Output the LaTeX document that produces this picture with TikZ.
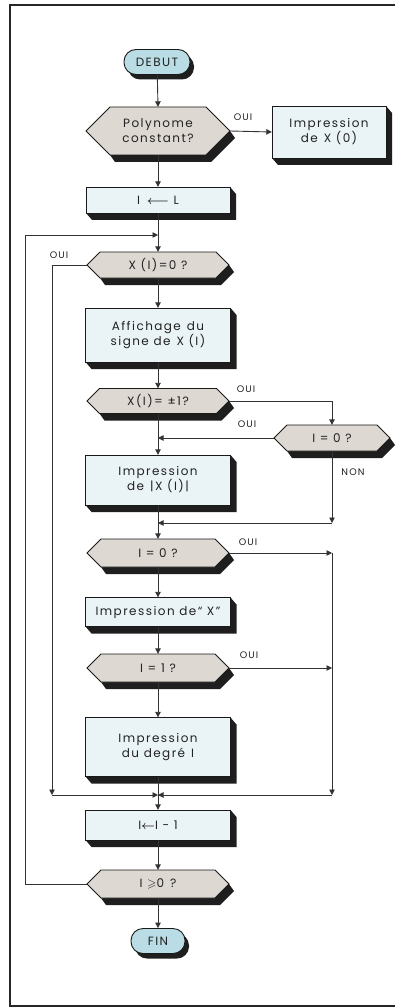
\documentclass[tikz,border=0pt]{standalone}
\usepackage{amsmath,amssymb}
\usepackage{fontspec}
\setmainfont{Poppins}[LetterSpace=12]
\usetikzlibrary{arrows.meta,shadows,calc}
\definecolor{boxc}{HTML}{EAF4F6}
\definecolor{hexc}{HTML}{DDD8D2}
\definecolor{termc}{HTML}{B9DCE5}
\definecolor{shadowc}{HTML}{1E1E1E}
\definecolor{linec}{HTML}{333333}
\definecolor{textc}{HTML}{222222}
% hexagon: name, x, y, w, h, text
\newcommand\hexnode[6]{%
  \pgfmathsetmacro\hw{#4/2}\pgfmathsetmacro\hh{#5/2}%
  \fill[shadowc] ({#2+\hw},#3) -- ++(5,7) -- ({#2+\hw-\hh+5},{#3+\hh+7}) -- ({#2-\hw+\hh+5},{#3+\hh+7}) -- ({#2-\hw+\hh},{#3+\hh}) -- cycle;
  \draw[boxline, fill=hexc] ({#2-\hw},#3) -- ({#2-\hw+\hh},{#3-\hh}) -- ({#2+\hw-\hh},{#3-\hh}) -- ({#2+\hw},#3) -- ({#2+\hw-\hh},{#3+\hh}) -- ({#2-\hw+\hh},{#3+\hh}) -- cycle;
  \node[txt, minimum width=#4pt, minimum height=#5pt] (#1) at (#2,#3) {#6};
}
% box: name, x, y, w, h, text
\newcommand\boxnode[6]{%
  \pgfmathsetmacro\hw{#4/2}\pgfmathsetmacro\hh{#5/2}%
  \fill[shadowc] ({#2+\hw},{#3-\hh}) -- ++(6,7) -- ({#2+\hw+6},{#3+\hh+7}) -- ({#2-\hw+6},{#3+\hh+7}) -- ({#2-\hw},{#3+\hh}) -- cycle;
  \draw[boxline, fill=boxc] ({#2-\hw},{#3-\hh}) rectangle ({#2+\hw},{#3+\hh});
  \node[txt, minimum width=#4pt, minimum height=#5pt] (#1) at (#2,#3) {#6};
}
\begin{document}
\begin{tikzpicture}[x=1pt, y=-1pt,
  font=\fontsize{12}{15}\selectfont,
  conn/.style={draw=linec, line width=0.9pt},
  arr/.style={conn, -{Triangle[length=5.5pt,width=5.5pt]}},
  boxline/.style={draw=black!90, line width=0.9pt},
  txt/.style={inner sep=0pt, align=center, text=textc},
  lab/.style={font=\fontsize{9.5}{11}\selectfont, text=textc, inner sep=0pt},
  term/.style={rounded corners=12pt, draw=black!90, line width=0.9pt, fill=termc,
     minimum width=#1, minimum height=25pt, inner sep=0pt, text=textc,
     general shadow={shadow xshift=4pt, shadow yshift=-5pt, fill=shadowc}}]
\useasboundingbox (0,0) rectangle (395,1008);
\fill[white] (0,0) rectangle (395,1008);
\draw[line width=1.4pt, black!85] (395,5) -- (10,5) -- (10,1006) -- (395,1006);

\node[term=66pt] (debut) at (157,62) {DEBUT};
\hexnode{poly}{158}{131}{144}{48}{Polynome\\constant?}
\boxnode{imp0}{329}{132}{114}{52}{Impression\\de\enspace X (0)}
\boxnode{il}{158}{200}{144}{26}{I\, $\boldsymbol{\longleftarrow}$ L}
\hexnode{xi0}{158}{265}{142}{26}{X (I)=0 ?}
\boxnode{aff}{158}{335}{145}{54}{Affichage\enspace du\\signe de\enspace X (I)}
\hexnode{xi1}{158}{401}{142}{25}{X(I)= ±1?}
\hexnode{i0r}{332}{438}{116}{26}{I = 0 ?}
\boxnode{impx}{158}{480}{145}{50}{Impression\\de\enspace|X (I)|}
\hexnode{i0}{158}{553}{142}{28}{I = 0 ?}
\boxnode{impX}{158}{612}{145}{29}{Impression de“ X”}
\hexnode{i1}{158}{668}{142}{28}{I = 1 ?}
\boxnode{deg}{158}{747}{145}{59}{Impression\\du degré\enspace I}
\boxnode{dec}{158}{825}{145}{30}{I$\boldsymbol{\leftarrow}$I - 1}
\hexnode{ige}{158}{884}{142}{28}{I $\geqslant$0\enspace ?}
\node[term=54pt] (fin) at (158,941) {FIN};

\coordinate (jtop) at (158,235);
\coordinate (loopc) at (25,235);
\coordinate (oL) at (52,795);
\coordinate (jbot) at (158,795);
\coordinate (oR) at (332,795);
\coordinate (r1) at (332,553);
\coordinate (nonc) at (332,523);

\draw[arr] (debut) -- (poly.north);
\draw[arr] (poly.east) -- (imp0.west);
\draw[arr] (poly.south) -- (il.north);
\draw[arr] (il.south) -- (xi0.north);
\draw[arr] (ige.west) -| (loopc) -- (jtop);
\draw[arr] (xi0.west) -| (oL);
\draw[arr] (oL) -- (jbot);
\draw[arr] (xi0.south) -- (aff.north);
\draw[arr] (aff.south) -- (xi1.north);
\draw[arr] (xi1.east) -| (i0r.north);
\draw[arr] (i0r.west) -- (i0r.west -| xi1.south);
\draw[arr] (xi1.south) -- (impx.north);
\draw[arr] (i0r.south) -- (nonc);
\draw[arr] (nonc) -- (nonc -| impx.south);
\draw[arr] (impx.south) -- (i0.north);
\draw[arr] (i0.east) -- (r1);
\draw[arr] (r1) -- (oR);
\draw[arr] (oR) -- (jbot);
\draw[arr] (i0.south) -- (impX.north);
\draw[arr] (impX.south) -- (i1.north);
\draw[arr] (i1.east) -- (i1.east -| r1);
\draw[arr] (i1.south) -- (deg.north);
\draw[arr] (deg.south) -- (dec.north);
\draw[arr] (dec.south) -- (ige.north);
\draw[arr] (ige.south) -- (fin);

\node[lab] (l1) at (243,117) {OUI};
\node[lab] (l2) at (59,255) {OUI};
\node[lab] (l3) at (246,389) {OUI};
\node[lab] (l4) at (247,424) {OUI};
\node[lab] (l5) at (353,472) {NON};
\node[lab] (l6) at (248,542) {OUI};
\node[lab] (l7) at (249,655) {OUI};
\end{tikzpicture}
\end{document}
